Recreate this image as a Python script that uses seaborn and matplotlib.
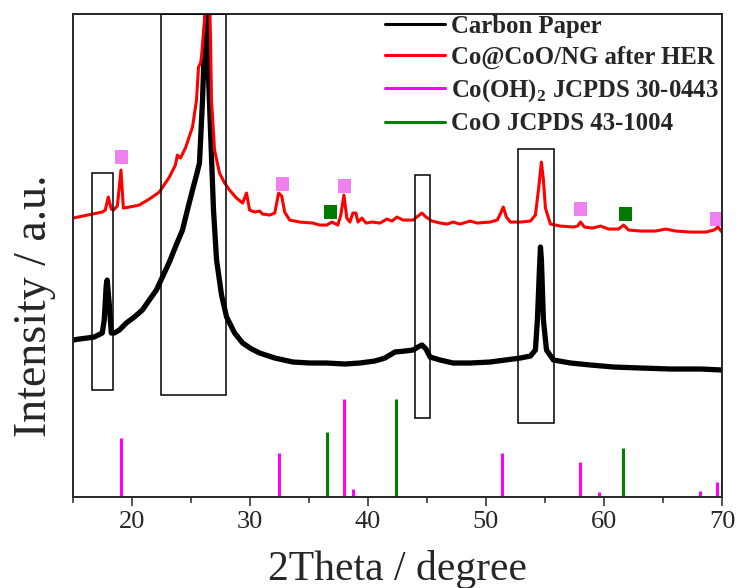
import numpy as np
import pandas as pd
import matplotlib
matplotlib.use('Agg')
import matplotlib.pyplot as plt
import seaborn as sns
from matplotlib.lines import Line2D
from matplotlib.patches import Rectangle

# Carbon paper pattern (2theta, intensity a.u.)
cp_2theta = [15.0, 15.53, 16.2, 16.8, 17.48, 17.65, 17.82, 17.9, 18.08, 18.25, 18.5, 18.93,
             19.52, 20.2, 20.88, 21.47, 22.07, 22.58, 23.17, 23.68, 24.28, 24.7, 25.13, 25.47,
             25.72, 25.98, 26.15, 26.32, 26.49, 26.72, 26.91, 27.17, 27.59, 28.02, 28.7, 29.38,
             30.14, 30.82, 32.1, 33.63, 35.07, 36.51, 38.04, 39.32, 40.59, 41.44, 42.29, 43.14,
             43.82, 44.24, 44.58, 44.92, 45.26, 46.11, 47.22, 48.66, 50.36, 51.64, 52.92, 53.77,
             54.19, 54.36, 54.53, 54.62, 54.7, 54.87, 55.13, 55.72, 57.17, 58.86, 60.82, 63.11,
             65.66, 68.21, 70.0]
cp_int = [157, 158, 159, 160, 164, 177, 212, 217, 192, 164, 164, 167,
          174, 180, 187, 197, 207, 220, 235, 250, 267, 287, 307, 322,
          334, 397, 457, 485, 420, 347, 287, 237, 202, 180, 164, 154,
          148, 144, 139, 135, 134, 134, 133, 134, 136, 139, 145, 146,
          147, 150, 152, 148, 140, 137, 134, 134, 135, 137, 139, 141,
          147, 177, 227, 250, 237, 177, 147, 137, 134, 132, 130, 129,
          128, 128, 127]

# Co@CoO/NG after HER pattern
her_2theta = [15.0, 17.48, 17.74, 17.99, 18.25, 18.42, 18.76, 19.07, 19.27, 19.78, 20.62,
              21.47, 22.32, 23.17, 23.68, 23.85, 24.11, 24.53, 25.13, 25.47, 25.64, 25.81,
              25.89, 26.15, 26.4, 26.66, 26.74, 27.0, 27.42, 27.85, 28.27, 28.86, 29.38,
              29.71, 29.97, 30.4, 30.82, 31.07, 31.67, 32.1, 32.43, 32.69, 32.94, 33.37,
              34.22, 35.33, 35.92, 36.51, 36.94, 37.45, 37.7, 37.96, 38.21, 38.47, 38.72,
              38.98, 39.15, 39.49, 39.83, 40.34, 41.02, 41.61, 42.04, 42.46, 42.97, 43.82,
              44.24, 44.58, 44.92, 45.43, 46.11, 46.71, 47.22, 47.81, 48.66, 49.26, 50.36,
              50.96, 51.21, 51.47, 51.73, 52.07, 52.92, 53.77, 54.19, 54.45, 54.7, 54.87,
              55.04, 55.46, 56.31, 57.42, 57.76, 58.01, 58.35, 59.03, 59.71, 60.39, 61.24,
              61.67, 62.09, 63.11, 64.39, 65.24, 66.09, 67.36, 68.64, 69.32, 69.66, 70.0]
her_int = [279, 285, 287, 300, 288, 287, 291, 327, 289, 290, 292,
           298, 305, 320, 332, 342, 339, 349, 370, 397, 430, 434,
           440, 477, 600, 457, 397, 347, 324, 314, 307, 299, 294,
           304, 287, 285, 286, 283, 282, 284, 304, 301, 285, 277,
           275, 274, 272, 272, 275, 272, 282, 302, 279, 275, 284,
           284, 275, 279, 274, 275, 274, 278, 276, 280, 277, 277,
           281, 284, 280, 276, 274, 273, 275, 273, 276, 274, 275,
           277, 283, 290, 280, 275, 275, 276, 282, 307, 335, 317,
           289, 273, 271, 270, 271, 275, 270, 269, 271, 268, 268,
           272, 267, 266, 266, 268, 266, 265, 265, 267, 270, 265]

# reference sticks
cooh_pos = [19.06, 32.43, 37.95, 38.7, 51.4, 58.0, 59.6, 68.1, 69.6]
cooh_int = [59, 44, 98, 8, 44, 35, 5, 6, 15]
coo_pos = [36.5, 42.4, 61.6]
coo_int = [65, 98, 49]

# square markers above the indexed peaks
pink_x = [19.1, 32.75, 37.98, 58.0, 69.56]
pink_y = [340, 313, 311, 288, 278]
green_x = [36.8, 61.84]
green_y = [285, 283]

# highlight boxes: x0, x1, y0, y1
boxes = [(16.64, 18.41, 107, 324),
         (22.47, 27.99, 102, 483),
         (44.0, 45.3, 79, 322),
         (52.7, 55.74, 74, 348)]

sns.set_style("ticks")
plt.rcParams['font.family'] = ['Liberation Serif', 'DejaVu Serif']
plt.rcParams['mathtext.fontset'] = 'custom'
plt.rcParams['mathtext.rm'] = 'Liberation Serif'
plt.rcParams['mathtext.bf'] = 'Liberation Serif:bold'

fig = plt.figure(figsize=(7.4, 5.88), dpi=100)
ax = fig.add_axes([0.0986, 0.1548, 0.877, 0.8212])

df_cp = pd.DataFrame({'x': cp_2theta, 'y': cp_int})
df_her = pd.DataFrame({'x': her_2theta, 'y': her_int})
sns.lineplot(data=df_cp, x='x', y='y', color='black', lw=3.8, sort=False, estimator=None, ax=ax)
sns.lineplot(data=df_her, x='x', y='y', color='#ff0000', lw=2.2, sort=False, estimator=None, ax=ax)

ax.vlines(cooh_pos, 0, cooh_int, color='#ff00ff', lw=2.2)
ax.vlines(coo_pos, 0, coo_int, color='#008000', lw=2.2)

sns.scatterplot(x=pink_x, y=pink_y, marker='s', s=90, color='#f080f0', edgecolor='none', ax=ax)
sns.scatterplot(x=green_x, y=green_y, marker='s', s=90, color='#007a00', edgecolor='none', ax=ax)

for x0, x1, y0, y1 in boxes:
    ax.add_patch(Rectangle((x0, y0), x1 - x0, y1 - y0, fill=False, ec='black', lw=1.1, zorder=5))

ax.set_xlim(15, 70)
ax.set_ylim(0, 483)
ax.set_xticks([20, 30, 40, 50, 60, 70])
ax.set_xticks([15, 25, 35, 45, 55, 65], minor=True)
ax.set_yticks([])
ax.tick_params(axis='x', which='major', length=6.5, width=1.1, labelsize=19, direction='out')
ax.tick_params(axis='x', which='minor', length=4.3, width=1.1, direction='out')
for sp in ax.spines.values():
    sp.set_linewidth(1.4)
ax.set_xlabel('2Theta / degree', fontsize=30, labelpad=12)
ax.set_ylabel('Intensity / a.u.', fontsize=33)
ax.yaxis.set_label_coords(-0.026, 0.395)

handles = [Line2D([], [], color='black', lw=2.2),
           Line2D([], [], color='#ff0000', lw=2.2),
           Line2D([], [], color='#ff00ff', lw=2.2),
           Line2D([], [], color='#008000', lw=2.2)]
labels = ['Carbon Paper', 'Co@CoO/NG after HER',
          r'Co(OH)$_\mathbf{2}$ JCPDS 30-0443', 'CoO JCPDS 43-1004']
ax.legend(handles, labels, loc='upper left', bbox_to_anchor=(0.466, 1.019), frameon=False,
          prop={'weight': 'bold', 'size': 17.8}, handlelength=2.4, handletextpad=0.25,
          labelspacing=0.33, borderaxespad=0)

fig.savefig('out.png', dpi=100)
